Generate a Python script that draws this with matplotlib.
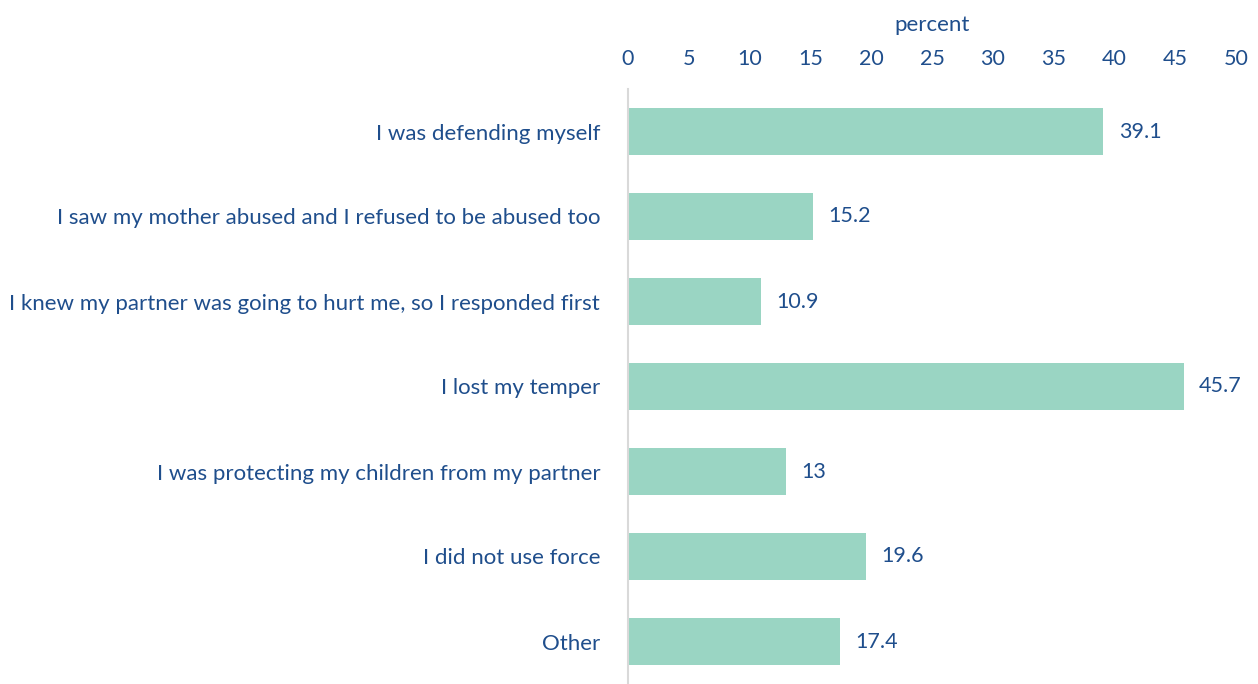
import matplotlib
matplotlib.use("Agg")
from matplotlib import pyplot as plt

categories = [
    "I was defending myself",
    "I saw my mother abused and I refused to be abused too",
    "I knew my partner was going to hurt me, so I responded first",
    "I lost my temper",
    "I was protecting my children from my partner",
    "I did not use force",
    "Other",
]
values = [39.1, 15.2, 10.9, 45.7, 13, 19.6, 17.4]
value_labels = ["39.1", "15.2", "10.9", "45.7", "13", "19.6", "17.4"]
xticks = [0, 5, 10, 15, 20, 25, 30, 35, 40, 45, 50]

bar_color = "#9AD5C3"
text_color = "#1F4E8C"

plt.rcParams['font.family'] = ['Lato', 'DejaVu Sans']

fig = plt.figure(figsize=(12.58, 6.84), dpi=100)
ax = fig.add_axes([628 / 1258, 0.0, 608 / 1258, 1 - 89 / 684])

y = list(range(len(categories)))
ax.barh(y, values, height=0.56, color=bar_color, zorder=2)
for yi, v, lab in zip(y, values, value_labels):
    ax.annotate(lab, (v, yi), xytext=(11, 0), textcoords='offset points',
                va='center', ha='left', fontsize=15.5, color=text_color)

ax.set_xlim(0, 50)
ax.set_ylim(len(categories) - 0.5, -0.5)
ax.set_xticks(xticks)
ax.set_yticks(y)
ax.set_yticklabels(categories)
ax.xaxis.tick_top()
ax.xaxis.set_label_position('top')
ax.set_xlabel("percent", fontsize=16, color=text_color, labelpad=13)
ax.tick_params(axis='x', length=0, pad=14.5, labelsize=15.5, labelcolor=text_color)
ax.tick_params(axis='y', length=0, pad=20, labelsize=16, labelcolor=text_color)

for side in ['top', 'right', 'bottom']:
    ax.spines[side].set_visible(False)
ax.spines['left'].set_color("#D9D9D9")
ax.spines['left'].set_linewidth(1.5)

fig.savefig("out.png", dpi=100)
